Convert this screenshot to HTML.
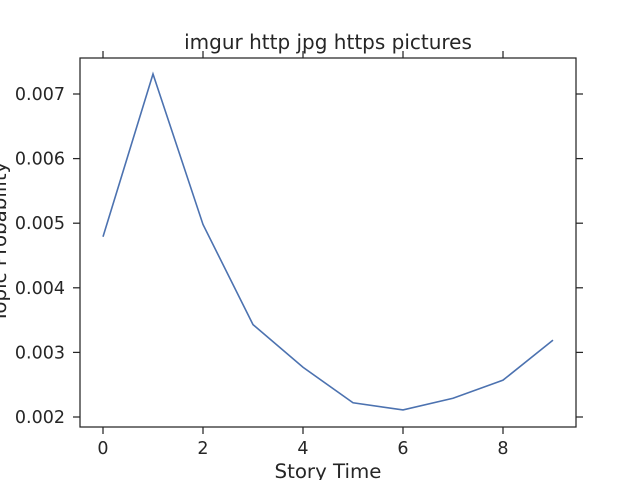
<!DOCTYPE html>
<html><head><meta charset="utf-8"><style>
body{margin:0;background:#fff;}
svg text{font-family:"DejaVu Sans","Liberation Sans",sans-serif;fill:#262626;}
</style></head><body>
<svg id="chart" width="640" height="480">
<rect x="0" y="0" width="640" height="480" fill="#fff"/>
<g id="axes"></g>
<text x="328" y="49" font-size="20" text-anchor="middle">imgur http jpg https pictures</text>
<text x="328" y="478" font-size="19.8" text-anchor="middle">Story Time</text>
<text transform="translate(6,242) rotate(-90)" font-size="19.8" text-anchor="middle">Topic Probability</text>
</svg>
<script>
const xValues=[0,1,2,3,4,5,6,7,8,9];
const yValues=[0.00479,0.00731,0.00498,0.00343,0.00277,0.00222,0.00211,0.00229,0.00257,0.00319];
const xTicks=[0,2,4,6,8];
const yTicks=[0.002,0.003,0.004,0.005,0.006,0.007];
const yTickLabels=["0.002","0.003","0.004","0.005","0.006","0.007"];
const L=80,R=576,T=58,B=427;
const sx=v=>103+v*50;
const sy=v=>417-(v-0.002)*64600;
const ns="http://www.w3.org/2000/svg";
const g=document.getElementById('axes');
function mk(t,a){const e=document.createElementNS(ns,t);for(const k in a)e.setAttribute(k,a[k]);g.appendChild(e);return e;}
const frame=mk('rect',{x:L,y:T,width:R-L,height:B-T,fill:'none',stroke:'#262626','stroke-width':1.25});


xTicks.forEach(v=>{
  const x=sx(v);
  const t1=mk('line',{x1:x,x2:x,y1:B,y2:B+7,stroke:'#262626','stroke-width':1.25});
  
  
  const t2=mk('line',{x1:x,x2:x,y1:T,y2:T-7,stroke:'#262626','stroke-width':1.25});
  
  
  const lb=mk('text',{x:x,y:B+27,'font-size':17.5,'text-anchor':'middle'});
  lb.textContent=v;
  
  
});
yTicks.forEach((v,i)=>{
  const y=sy(v);
  const t1=mk('line',{x1:L,x2:L-7,y1:y,y2:y,stroke:'#262626','stroke-width':1.25});
  
  
  const t2=mk('line',{x1:R,x2:R+7,y1:y,y2:y,stroke:'#262626','stroke-width':1.25});
  
  
  const lb=mk('text',{x:L-15,y:y+6,'font-size':17.5,'text-anchor':'end'});
  lb.textContent=yTickLabels[i];
  
  
});
const pts=xValues.map((x,i)=>sx(x)+','+sy(yValues[i])).join(' ');
const line=mk('polyline',{points:pts,fill:'none',stroke:'#4c72b0','stroke-width':1.6});


</script>
</body></html>
